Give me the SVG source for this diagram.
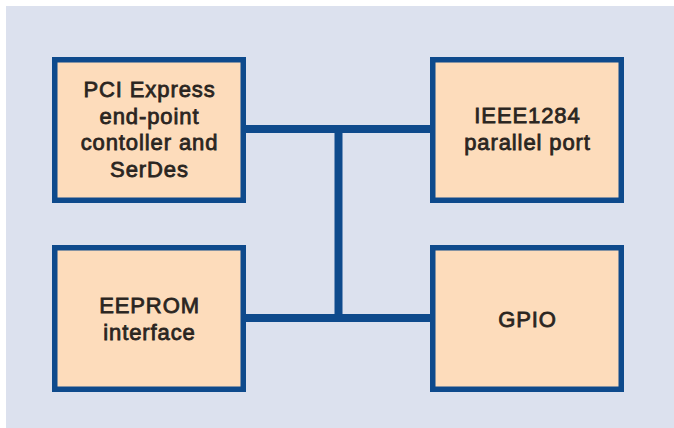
<svg xmlns="http://www.w3.org/2000/svg" width="674" height="428" viewBox="0 0 674 428">
<style>
.box{fill:#fddcbb;stroke:#0e4a8c;stroke-width:5.5}
.bus{fill:none;stroke:#0e4a8c;stroke-width:8;stroke-linecap:butt}
.lbl{font-family:"Liberation Sans",Arial,sans-serif;font-size:22px;letter-spacing:0.9px;fill:#2a2521;stroke:#2a2521;stroke-width:0.8;text-anchor:middle}
</style>
<rect x="0" y="0" width="674" height="428" fill="#ffffff"/>
<rect x="6" y="6" width="668" height="422" fill="#dce1ee"/>
<g id="connectors">
<path class="bus" d="M246 129 H430"/>
<path class="bus" d="M338.5 125 V322"/>
<path class="bus" d="M246 318 H430"/>
</g>
<g id="pcie">
<rect class="box" x="54.75" y="59.75" width="188.5" height="140.5"/>
<text class="lbl" x="149.5" y="97">PCI Express</text>
<text class="lbl" x="149.5" y="123.5">end-point</text>
<text class="lbl" x="149.5" y="150">contoller and</text>
<text class="lbl" x="149.5" y="176.5">SerDes</text>
</g>
<g id="ieee1284">
<rect class="box" x="432.75" y="59.75" width="188.5" height="140.5"/>
<text class="lbl" x="527.5" y="123">IEEE1284</text>
<text class="lbl" x="527.5" y="150">parallel port</text>
</g>
<g id="eeprom">
<rect class="box" x="54.75" y="247.75" width="188.5" height="141.5"/>
<text class="lbl" x="149.5" y="313">EEPROM</text>
<text class="lbl" x="149.5" y="340">interface</text>
</g>
<g id="gpio">
<rect class="box" x="432.75" y="247.75" width="188.5" height="141.5"/>
<text class="lbl" x="527.5" y="327">GPIO</text>
</g>
</svg>
